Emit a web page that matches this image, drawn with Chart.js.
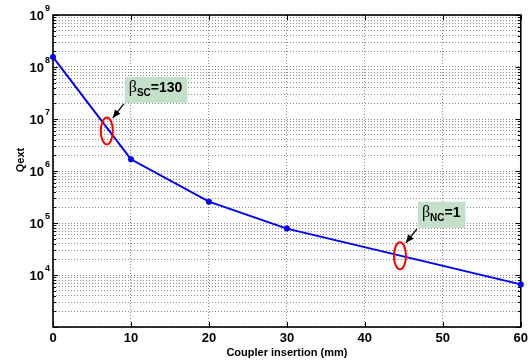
<!DOCTYPE html>
<html>
<head>
<meta charset="utf-8">
<script src="https://cdn.jsdelivr.net/npm/chart.js@4/dist/chart.umd.min.js"></script>
<style>
  html, body { margin: 0; padding: 0; background: #fff; }
  canvas { display: block; }
</style>
</head>
<body>
<canvas id="qextChart" width="532" height="364"></canvas>
<script>
const insertion = [0, 10, 20, 30, 60];
const qext = [1.55e8, 1.68e6, 2.57e5, 7.8e4, 6.6e3];

const xTickValues = [0, 10, 20, 30, 40, 50, 60];
const yDecades = [3, 4, 5, 6, 7, 8, 9];
const yLabelExps = [4, 5, 6, 7, 8, 9];
const yTitle = 'Qext';

// coupling marks on the curve
const betaX = [6.9, 44.5];
const betaY = [5.9e6, 2.34e4];
const betaSub = ['SC', 'NC'];
const betaVal = ['=130', '=1'];

const FONT = '"Liberation Sans", Arial, sans-serif';
const GRID = 'rgba(0,0,0,0.45)';

const axesPlugin = {
  id: 'matlabAxes',
  beforeDatasetsDraw(chart) {
    const { ctx, chartArea: a, scales } = chart;
    ctx.save();
    ctx.strokeStyle = '#000';
    ctx.lineWidth = 1;
    // inward ticks, x
    xTickValues.forEach((v) => {
      const x = Math.round(scales.x.getPixelForValue(v)) + 0.5;
      ctx.beginPath();
      ctx.moveTo(x, a.bottom); ctx.lineTo(x, a.bottom - 5);
      ctx.moveTo(x, a.top); ctx.lineTo(x, a.top + 5);
      ctx.stroke();
    });
    // inward ticks, y (major + minor)
    scales.y.ticks.forEach((t) => {
      const major = Math.abs(Math.log10(t.value) - Math.round(Math.log10(t.value))) < 1e-9;
      const len = major ? 5 : 3;
      const y = Math.round(scales.y.getPixelForValue(t.value)) + 0.5;
      ctx.beginPath();
      ctx.moveTo(a.left, y); ctx.lineTo(a.left + len, y);
      ctx.moveTo(a.right, y); ctx.lineTo(a.right - len, y);
      ctx.stroke();
    });
    // frame
    ctx.lineWidth = 1.6;
    ctx.strokeRect(a.left, a.top, a.right - a.left, a.bottom - a.top);

    // y labels 10^n
    ctx.fillStyle = '#000';
    ctx.textBaseline = 'middle';
    yLabelExps.forEach((e) => {
      const y = scales.y.getPixelForValue(Math.pow(10, e));
      ctx.font = 'bold 13px ' + FONT;
      ctx.textAlign = 'right';
      ctx.fillText('10', a.left - 9, y + 1);
      ctx.font = 'bold 9px ' + FONT;
      ctx.textAlign = 'left';
      ctx.fillText(String(e), a.left - 8, y - 6);
    });

    // y title
    ctx.translate(21, 160);
    ctx.rotate(-Math.PI / 2);
    ctx.textAlign = 'center';
    ctx.font = 'bold 11px ' + FONT;
    ctx.fillText(yTitle, 0, 0);
    ctx.restore();
  },
  afterDatasetsDraw(chart) {
    const { ctx, scales } = chart;
    ctx.save();
    betaX.forEach((bx, i) => {
      const cx = scales.x.getPixelForValue(bx);
      const cy = scales.y.getPixelForValue(betaY[i]);
      // red ellipse
      ctx.strokeStyle = '#ff0000';
      ctx.lineWidth = 2;
      ctx.beginPath();
      ctx.ellipse(cx, cy, 6, 13.5, 0, 0, Math.PI * 2);
      ctx.stroke();

      // label box
      ctx.font = '16px "Liberation Serif", serif';
      const wB = ctx.measureText('\u03b2').width;
      ctx.font = 'bold 10px ' + FONT;
      const wS = ctx.measureText(betaSub[i]).width;
      ctx.font = 'bold 14px ' + FONT;
      const wV = ctx.measureText(betaVal[i]).width;
      const bx0 = cx + 18, by0 = cy - 54;
      const bw = wB + wS + wV + 9, bh = 26;
      ctx.fillStyle = '#c5e0c9';
      ctx.fillRect(bx0, by0, bw, bh);
      ctx.fillStyle = '#000';
      ctx.textBaseline = 'alphabetic';
      ctx.textAlign = 'left';
      let tx = bx0 + 4;
      ctx.font = '16px "Liberation Serif", serif';
      ctx.fillText('\u03b2', tx, by0 + 15);
      tx += wB;
      ctx.font = 'bold 10px ' + FONT;
      ctx.fillText(betaSub[i], tx, by0 + 19);
      tx += wS;
      ctx.font = 'bold 14px ' + FONT;
      ctx.fillText(betaVal[i], tx, by0 + 15);

      // arrow
      const x1 = bx0 - 1, y1 = by0 + bh + 1;
      const x2 = cx + 6, y2 = cy - 13;
      const ang = Math.atan2(y2 - y1, x2 - x1);
      ctx.strokeStyle = '#000';
      ctx.lineWidth = 1.3;
      ctx.beginPath();
      ctx.moveTo(x1, y1); ctx.lineTo(x2, y2);
      ctx.stroke();
      ctx.beginPath();
      ctx.moveTo(x2, y2);
      ctx.lineTo(x2 - 8 * Math.cos(ang) + 3.5 * Math.sin(ang), y2 - 8 * Math.sin(ang) - 3.5 * Math.cos(ang));
      ctx.lineTo(x2 - 8 * Math.cos(ang) - 3.5 * Math.sin(ang), y2 - 8 * Math.sin(ang) + 3.5 * Math.cos(ang));
      ctx.closePath();
      ctx.fill();
    });
    ctx.restore();
  },
};

new Chart(document.getElementById('qextChart'), {
  type: 'line',
  data: {
    datasets: [{
      data: insertion.map((x, i) => ({ x, y: qext[i] })),
      borderColor: '#0000ff',
      backgroundColor: '#0000ff',
      borderWidth: 2,
      pointRadius: 3,
      pointBorderWidth: 0,
      tension: 0,
      clip: false,
    }],
  },
  options: {
    responsive: false,
    animation: false,
    layout: { padding: { top: 15, right: 9, left: 0, bottom: 0 } },
    plugins: { legend: { display: false }, tooltip: { enabled: false } },
    scales: {
      x: {
        type: 'linear',
        min: 0,
        max: 60,
        afterBuildTicks: (s) => { s.ticks = xTickValues.map((v) => ({ value: v })); },
        afterFit: (s) => { s.height = 37; },
        grid: { color: GRID, drawTicks: false, lineWidth: 1 },
        border: { display: false, dash: [1, 2] },
        ticks: { color: '#000', font: { family: FONT, size: 13, weight: 'bold' }, padding: 4, maxRotation: 0, autoSkip: false },
        title: { display: true, text: 'Coupler insertion (mm)', color: '#000', font: { family: FONT, size: 11, weight: 'bold' }, padding: { top: 0, bottom: 4 } },
      },
      y: {
        type: 'logarithmic',
        min: 1e3,
        max: 1e9,
        afterBuildTicks: (s) => {
          const t = [];
          yDecades.forEach((e) => {
            for (let m = 1; m <= 9; m++) {
              const v = m * Math.pow(10, e);
              if (v <= 1e9) t.push({ value: v });
            }
          });
          s.ticks = t;
        },
        afterFit: (s) => { s.width = 53; },
        grid: { color: GRID, drawTicks: false, lineWidth: 1 },
        border: { display: false, dash: [1, 2] },
        ticks: { callback: () => '', padding: 0, autoSkip: false },
        title: { display: false },
      },
    },
  },
  plugins: [axesPlugin],
});
</script>
</body>
</html>
